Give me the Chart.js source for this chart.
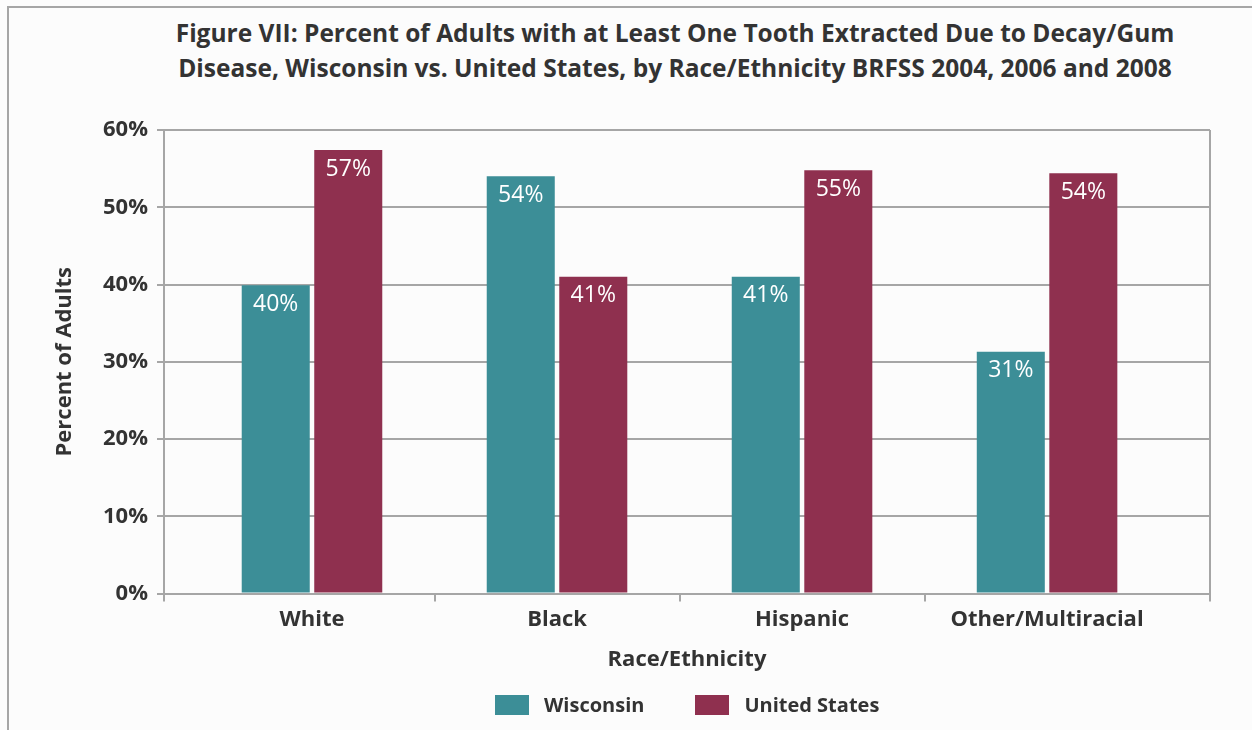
<!DOCTYPE html>
<html>
<head>
<meta charset="utf-8">
<script src="https://cdn.jsdelivr.net/npm/chart.js@4.4.1/dist/chart.umd.min.js"></script>
<style>
  html,body{margin:0;padding:0;background:#fcfcfc;}
  body{width:1252px;height:730px;position:relative;overflow:hidden;font-family:"Open Sans",sans-serif;color:#333;}
  #frame{position:absolute;left:7px;top:6px;width:1400px;height:900px;border-left:2px solid #a6a6a6;border-top:2px solid #a6a6a6;}
  #title{position:absolute;left:125px;width:1100px;top:15px;text-align:center;font-weight:700;font-size:24.5px;line-height:35px;white-space:nowrap;}
  #legend{position:absolute;left:495px;top:691px;display:flex;align-items:center;font-weight:700;font-size:20px;}
  #legend .sw{width:34px;height:20px;margin-right:15px;}
  #legend .item{display:flex;align-items:center;margin-right:51px;}
  #wrap{position:absolute;left:0;top:0;width:1252px;height:730px;}
</style>
</head>
<body>
<div id="frame"></div>
<div id="title">Figure VII: Percent of Adults with at Least One Tooth Extracted Due to Decay/Gum<br>Disease, Wisconsin vs. United States, by Race/Ethnicity BRFSS 2004, 2006 and 2008</div>
<div id="wrap"><canvas id="chart" width="1252" height="730"></canvas></div>
<div id="legend"></div>
<script>
// ─── DATA ───────────────────────────────────────────────────────────
const categories = ['White','Black','Hispanic','Other/Multiracial'];
const seriesNames = ['Wisconsin','United States'];
const wisconsin = [39.9, 54.0, 41.0, 31.3];
const unitedStates = [57.4, 41.0, 54.8, 54.4];
const yTicks = [0,10,20,30,40,50,60];

const COLORS = ['#3c8e97','#8f304f'];
const GRAY = '#a6a6a6';
const TEXT = '#333333';
// x range chosen so the plot frame is a bit wider than the four groups
const XMIN = -0.604, XMAX = 3.665;

// HTML legend
const legendEl = document.getElementById('legend');
seriesNames.forEach((n,i)=>{
  const it = document.createElement('div');
  it.className = 'item';
  const sw = document.createElement('div');
  sw.className = 'sw';
  sw.style.background = COLORS[i];
  const tx = document.createElement('span');
  tx.textContent = n;
  it.appendChild(sw); it.appendChild(tx);
  legendEl.appendChild(it);
});

// value labels inside top of bars
const barLabels = {
  id:'barLabels',
  afterDatasetsDraw(chart){
    const ctx = chart.ctx;
    ctx.save();
    ctx.fillStyle = '#ffffff';
    ctx.font = '23px "Open Sans"';
    ctx.textAlign = 'center';
    ctx.textBaseline = 'middle';
    chart.data.datasets.forEach((ds,di)=>{
      chart.getDatasetMeta(di).data.forEach((bar,i)=>{
        ctx.fillText(Math.round(ds.data[i].y)+'%', bar.x, bar.y+19);
      });
    });
    ctx.restore();
  }
};

const toPoints = arr => arr.map((v,i)=>({x:i,y:v}));
const bold22 = {family:'"Open Sans"',size:22,weight:'bold'};

new Chart(document.getElementById('chart'),{
  type:'bar',
  data:{datasets:[
    {label:seriesNames[0],data:toPoints(wisconsin),backgroundColor:COLORS[0],xAxisID:'x2'},
    {label:seriesNames[1],data:toPoints(unitedStates),backgroundColor:COLORS[1],xAxisID:'x2'}
  ]},
  options:{
    responsive:false,animation:false,
    categoryPercentage:0.592,barPercentage:0.938,
    layout:{padding:{left:52,right:42,top:130,bottom:57}},
    plugins:{legend:{display:false},title:{display:false},tooltip:{enabled:false}},
    scales:{
      x2:{
        type:'linear',position:'bottom',min:XMIN,max:XMAX,weight:0,offset:false,
        afterBuildTicks:s=>{s.ticks=[XMIN,0.5,1.5,2.5,XMAX].map(v=>({value:v}));},
        ticks:{display:false},
        grid:{offset:false,drawTicks:true,tickLength:8,lineWidth:2,tickColor:GRAY,
          color:c=>(c.tick && Math.abs(c.tick.value-XMAX)<1e-6)?GRAY:'rgba(0,0,0,0)'},
        border:{display:true,color:GRAY,width:2},
        afterFit:s=>{s.height=8;}
      },
      x:{
        type:'linear',position:'bottom',min:XMIN,max:XMAX,weight:1,offset:false,
        afterBuildTicks:s=>{s.ticks=categories.map((_,i)=>({value:i}));},
        ticks:{autoSkip:false,maxRotation:0,padding:5,color:TEXT,font:bold22,callback:v=>categories[v]},
        grid:{display:false,drawTicks:false,offset:false},
        border:{display:false},
        title:{display:true,text:'Race/Ethnicity',color:TEXT,font:bold22,padding:0},
        afterFit:s=>{s.height=71.5;}
      },
      y:{
        min:0,max:60,
        afterBuildTicks:s=>{s.ticks=yTicks.map(v=>({value:v}));},
        ticks:{padding:9,color:TEXT,font:bold22,callback:v=>v+'%'},
        grid:{color:GRAY,lineWidth:2,tickLength:7},
        border:{display:true,color:GRAY,width:2},
        title:{display:true,text:'Percent of Adults',color:TEXT,font:bold22,padding:0},
        afterFit:s=>{s.width=112;}
      }
    }
  },
  plugins:[barLabels]
});
</script>
</body>
</html>
